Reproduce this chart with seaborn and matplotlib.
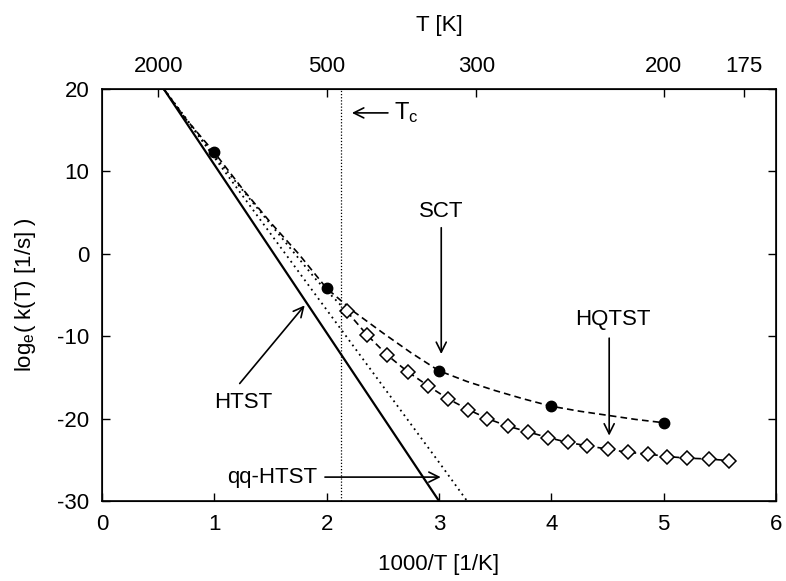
import numpy as np
import pandas as pd
import seaborn as sns
import matplotlib.pyplot as plt

# curves (x = 1000/T, y = ln k)
htst_x = [0.55, 3.0]
htst_y = [20.0, -30.0]

qq_x = [0.55, 1.0, 2.0, 3.0, 3.25]
qq_y = [20.0, 11.7, -6.8, -25.3, -30.0]

sct_line_x = [0.55, 0.75, 1.0, 1.25, 1.5, 1.75, 2.0, 2.25, 2.5, 2.75, 3.0, 3.25, 3.5, 3.75, 4.0, 4.25, 4.5, 4.75, 5.0]
sct_line_y = [20.0, 16.3, 12.3, 7.9, 3.8, 0.0, -4.2, -7.1, -9.6, -12.0, -14.2, -15.5, -16.6, -17.6, -18.5, -19.1, -19.6, -20.1, -20.5]
sct_pts_x = [1, 2, 3, 4, 5]
sct_pts_y = [12.3, -4.2, -14.2, -18.5, -20.5]

hq_ext_x = [0.55, 1.0, 1.5, 1.91, 2.18]
hq_ext_y = [20.0, 11.9, 3.6, -3.2, -7.0]
hq_x = [2.18, 2.36, 2.54, 2.72, 2.90, 3.08, 3.26, 3.43, 3.61, 3.79,
        3.97, 4.15, 4.32, 4.50, 4.68, 4.86, 5.03, 5.21, 5.40, 5.58]
hq_y = [-7.0, -9.85, -12.3, -14.3, -16.0, -17.6, -18.9, -20.0, -20.9, -21.6,
        -22.3, -22.9, -23.3, -23.7, -24.1, -24.3, -24.6, -24.8, -24.9, -25.1]

tc = 2.13
top_T = [2000, 500, 300, 200, 175]

sns.set_style("ticks")
plt.rcParams['font.family'] = ['Liberation Sans', 'DejaVu Sans']
plt.rcParams['mathtext.fontset'] = 'custom'
plt.rcParams['mathtext.rm'] = 'Liberation Sans'
plt.rcParams['mathtext.it'] = 'Liberation Sans'
plt.rcParams['axes.unicode_minus'] = False
for k in ['text.color', 'axes.labelcolor', 'xtick.color', 'ytick.color', 'axes.edgecolor']:
    plt.rcParams[k] = 'black'

fig = plt.figure(figsize=(7.86, 5.81), dpi=100)
ax = fig.add_axes([102/786, 1 - 501/581, 674/786, 412/581])

fs = 16
dot = (0, (1, 2.2))
dash = (0, (4, 2.5))
sns.lineplot(x=htst_x, y=htst_y, ax=ax, color='black', lw=1.6, sort=False, estimator=None)
sns.lineplot(x=qq_x, y=qq_y, ax=ax, color='black', lw=1.3, linestyle=dot, sort=False, estimator=None)
sns.lineplot(x=hq_ext_x, y=hq_ext_y, ax=ax, color='black', lw=1.3, linestyle=dot, sort=False, estimator=None)
sns.lineplot(x=sct_line_x, y=sct_line_y, ax=ax, color='black', lw=1.2, linestyle=dash, sort=False, estimator=None)
sns.lineplot(x=hq_x, y=hq_y, ax=ax, color='black', lw=1.2, linestyle=dash, sort=False, estimator=None,
             marker='D', markersize=7, markerfacecolor='white', markeredgecolor='black', markeredgewidth=1.1)
ax.plot(sct_pts_x, sct_pts_y, 'o', color='black', markersize=7.5)

ax.axvline(tc, color='black', lw=0.9, linestyle=(0, (1, 1.5)))

ax.set_xlim(0, 6)
ax.set_ylim(-30, 20)
ax.set_xticks(range(0, 7))
ax.set_yticks(range(-30, 21, 10))
ax.tick_params(direction='in', length=6, width=1, labelsize=fs, pad=9, top=False, right=True)
for s in ax.spines.values():
    s.set_linewidth(1.2)
ax.set_xlabel('1000/T [1/K]', fontsize=fs, labelpad=14)
ax.set_ylabel(r'log$_\mathrm{e}$( k(T) [1/s] )', fontsize=fs, labelpad=14)

ax2 = ax.twiny()
ax2.set_xlim(0, 6)
ax2.set_xticks([1000 / t for t in top_T])
ax2.set_xticklabels([str(t) for t in top_T])
ax2.tick_params(direction='in', length=6, width=1, labelsize=fs, pad=9)
ax2.set_xlabel('T [K]', fontsize=fs, labelpad=18)

arrow = dict(arrowstyle='->', color='black', lw=1.2, mutation_scale=18)
ax.annotate('', xy=(2.2, 17.1), xytext=(2.57, 17.1), arrowprops=arrow)
ax.text(2.6, 17.1, r'T$_\mathrm{c}$', fontsize=fs + 1, va='center', ha='left')

ax.text(3.02, 5.1, 'SCT', fontsize=fs, ha='center', va='center')
ax.annotate('', xy=(3.02, -12.5), xytext=(3.02, 3.5), arrowprops=arrow)

ax.text(4.55, -8.0, 'HQTST', fontsize=fs, ha='center', va='center')
ax.annotate('', xy=(4.515, -22.4), xytext=(4.515, -9.9), arrowprops=arrow)

ax.text(1.26, -18.0, 'HTST', fontsize=fs, ha='center', va='center')
ax.annotate('', xy=(1.82, -6.0), xytext=(1.21, -16.0), arrowprops=arrow)

ax.text(1.92, -27.1, 'qq-HTST', fontsize=fs, ha='right', va='center')
ax.annotate('', xy=(3.04, -27.1), xytext=(1.96, -27.1), arrowprops=arrow)

fig.savefig('out.png', dpi=100)
